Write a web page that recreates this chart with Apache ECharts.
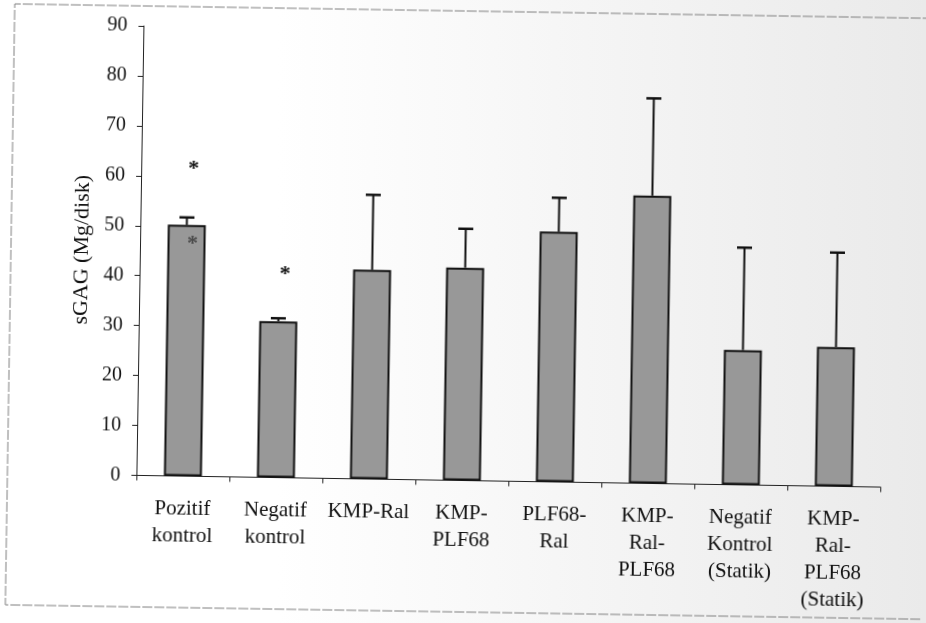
<!DOCTYPE html>
<html>
<head>
<meta charset="utf-8">
<title>sGAG (Mg/disk)</title>
<script src="https://cdn.jsdelivr.net/npm/echarts@6/dist/echarts.min.js"></script>
<style>
  html, body {
    margin: 0; padding: 0; overflow: hidden;
    width: 926px; height: 623px;
    background: linear-gradient(to right, #ffffff 0%, #ffffff 30%, #eaeaea 100%);
  }
  #chart { width: 926px; height: 623px; transform: rotate(0.9deg); transform-origin: 50% 50%; }
</style>
</head>
<body>
<div id="chart"></div>
<script>
// Group names on the category axis
const categories = [
  'Pozitif\nkontrol',
  'Negatif\nkontrol',
  'KMP-Ral',
  'KMP-\nPLF68',
  'PLF68-\nRal',
  'KMP-\nRal-\nPLF68',
  'Negatif\nKontrol\n(Statik)',
  'KMP-\nRal-\nPLF68\n(Statik)'
];
// Mean sGAG per disk and its standard deviation
const sgagMean = [50.3, 31.3, 41.9, 42.6, 50.1, 57.6, 27.0, 27.9];
const sgagSD   = [1.5, 0.6, 15.0, 7.8, 6.8, 19.5, 20.5, 18.9];
// Significance asterisks: group index and height on the value axis
const sigIndex = [0, 1];
const sigValue = [62.6, 41.6];
// Faint asterisk showing through the first bar
const faintIndex = [0];
const faintValue = [47.4];
// Value axis ticks
const yTicks = [0, 10, 20, 30, 40, 50, 60, 70, 80, 90];

const serif = '"Liberation Serif", "Times New Roman", serif';
const ink = '#111111';

const chart = echarts.init(document.getElementById('chart'), null, { renderer: 'canvas' });

const errorData = sgagMean.map((m, i) => [i, m, m + sgagSD[i]]);
const sigData = sigIndex.map((c, i) => [c, sigValue[i]]);
const faintData = faintIndex.map((c, i) => [c, faintValue[i]]);

function asteriskItem(color) {
  return function (params, api) {
    const p = api.coord([api.value(0), api.value(1)]);
    return {
      type: 'text',
      x: p[0] + 6,
      y: p[1] + 5,
      style: {
        text: '*',
        fill: color,
        font: 'bold 22px ' + serif,
        align: 'center',
        verticalAlign: 'middle'
      }
    };
  };
}

chart.setOption({
  backgroundColor: 'transparent',
  animation: false,
  graphic: [{
    type: 'polyline',
    shape: { points: [[940, 11], [10, 11], [10, 612], [940, 612]] },
    style: { stroke: '#808080', lineWidth: 1, fill: null, lineDash: [10, 2] }
  }],
  grid: { left: 139, right: 43, top: 31, bottom: 142.5, containLabel: false },
  xAxis: {
    type: 'category',
    data: categories,
    boundaryGap: true,
    axisLine: { show: true, lineStyle: { color: '#222', width: 1 } },
    axisTick: { show: true, inside: false, length: 5, alignWithLabel: false, lineStyle: { color: '#222' } },
    axisLabel: {
      interval: 0,
      margin: 19,
      fontFamily: serif,
      fontSize: 21,
      lineHeight: 27,
      color: ink
    },
    splitLine: { show: false }
  },
  yAxis: {
    type: 'value',
    min: yTicks[0],
    max: yTicks[yTicks.length - 1],
    interval: yTicks[1] - yTicks[0],
    name: 'sGAG (Mg/disk)',
    nameLocation: 'middle',
    nameGap: 44,
    nameRotate: 90,
    nameTextStyle: { fontFamily: serif, fontSize: 22, color: ink },
    axisLine: { show: true, lineStyle: { color: '#222', width: 1 } },
    axisTick: { show: true, inside: false, length: 5, lineStyle: { color: '#222' } },
    axisLabel: { margin: 16, fontFamily: serif, fontSize: 20, color: ink },
    splitLine: { show: false }
  },
  series: [
    {
      type: 'bar',
      data: sgagMean,
      barWidth: 38,
      itemStyle: { color: '#989898', borderColor: '#111', borderWidth: 2 },
      z: 2
    },
    {
      type: 'custom',
      data: errorData,
      z: 3,
      renderItem: function (params, api) {
        const i = api.value(0);
        const base = api.coord([i, api.value(1)]);
        const top = api.coord([i, api.value(2)]);
        return {
          type: 'group',
          children: [
            { type: 'line', shape: { x1: base[0], y1: base[1], x2: top[0], y2: top[1] },
              style: { stroke: '#111', lineWidth: 2 } },
            { type: 'line', shape: { x1: top[0] - 7.5, y1: top[1], x2: top[0] + 7.5, y2: top[1] },
              style: { stroke: '#111', lineWidth: 2.5 } }
          ]
        };
      }
    },
    { type: 'custom', data: sigData, z: 4, renderItem: asteriskItem('#111') },
    { type: 'custom', data: faintData, z: 4, renderItem: asteriskItem('#4a4a4a') }
  ]
});
</script>
</body>
</html>
